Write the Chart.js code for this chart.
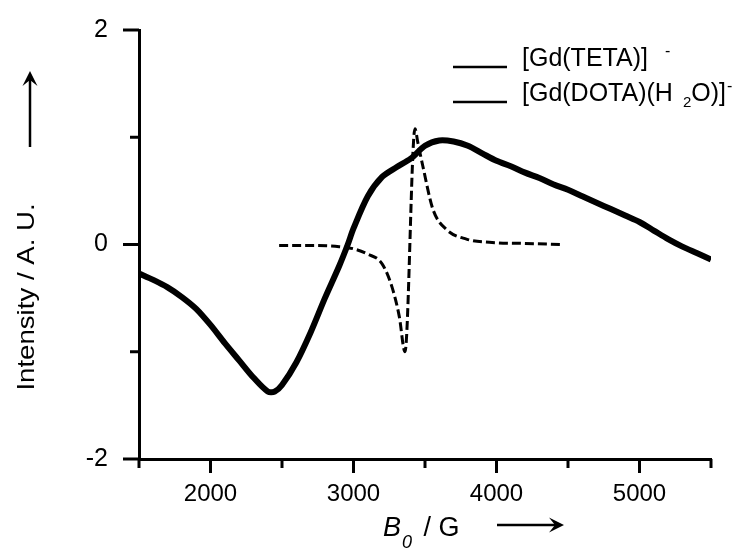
<!DOCTYPE html>
<html>
<head>
<meta charset="utf-8">
<script src="https://cdn.jsdelivr.net/npm/chart.js@4/dist/chart.umd.min.js"></script>
<style>
html,body{margin:0;padding:0;background:#fff;}
#wrap{width:747px;height:555px;position:relative;}
</style>
</head>
<body>
<div id="wrap"><canvas id="c"></canvas></div>
<script>
// ---- data ----
const tetaB0  = [1500,1600,1700,1800,1900,2000,2100,2200,2300,2400,2450,2500,2600,2700,2800,2900,2960,3000,3100,3200,3300,3400,3500,3600,3700,3800,3900,4000,4100,4200,4300,4400,4500,4600,4700,4800,4900,5000,5100,5200,5300,5400,5500];
const tetaInt = [-0.27,-0.33,-0.40,-0.49,-0.60,-0.75,-0.92,-1.08,-1.24,-1.37,-1.37,-1.31,-1.10,-0.82,-0.50,-0.20,0.00,0.15,0.45,0.63,0.72,0.80,0.92,0.97,0.96,0.92,0.85,0.78,0.73,0.67,0.62,0.56,0.51,0.45,0.39,0.33,0.27,0.21,0.13,0.05,-0.02,-0.08,-0.14];
const dotaB0  = [2480,2700,2900,3000,3100,3200,3270,3320,3360,3430,3450,3485,3555,3650,3790,3950,4200,4470];
const dotaInt = [-0.01,-0.01,-0.02,-0.04,-0.09,-0.18,-0.40,-0.67,-1.00,1.08,0.95,0.73,0.33,0.14,0.05,0.02,0.01,0.00];
const xTickLabels = [2000,3000,4000,5000];
const yTickLabels = [-2,0,2];
const seriesNames = ['[Gd(TETA)]-','[Gd(DOTA)(H2O)]-'];
// legend text runs (n = normal, gap = extra space, sub = subscript, sup = superscript)
const legendRuns = [
  [['n','[Gd(TETA)]'],['gap',16],['sup','-']],
  [['n','[Gd(DOTA)(H'],['gap',10],['sub','2'],['n','O)]'],['sup','-']]
];
const yTitle = 'Intensity / A. U.';
const xTitleRuns = [['i','B'],['isub','0'],['n',' / G']];

const FONT = '"Liberation Sans", Arial, Helvetica, sans-serif';
const pts = (xs, ys) => xs.map((v,i)=>({x:v,y:ys[i]}));

function arrow(ctx, x1, y1, x2, y2, head){
  const ang = Math.atan2(y2-y1, x2-x1);
  ctx.beginPath(); ctx.moveTo(x1,y1);
  ctx.lineTo(x2 - Math.cos(ang)*head*0.6, y2 - Math.sin(ang)*head*0.6); ctx.stroke();
  ctx.beginPath();
  ctx.moveTo(x2,y2);
  ctx.lineTo(x2 - head*Math.cos(ang) + head*0.5*Math.sin(ang), y2 - head*Math.sin(ang) - head*0.5*Math.cos(ang));
  ctx.lineTo(x2 - head*0.6*Math.cos(ang), y2 - head*0.6*Math.sin(ang));
  ctx.lineTo(x2 - head*Math.cos(ang) - head*0.5*Math.sin(ang), y2 - head*Math.sin(ang) + head*0.5*Math.cos(ang));
  ctx.closePath(); ctx.fill();
}

const decor = {
  id:'decor',
  afterDraw(chart){
    const {ctx, chartArea:a, scales:{x, y}} = chart;
    ctx.save();
    ctx.strokeStyle = '#000'; ctx.fillStyle = '#000'; ctx.lineWidth = 3; ctx.lineCap = 'butt';
    // x tick marks (major where labelled)
    x.ticks.forEach(t=>{
      const px = x.getPixelForValue(t.value);
      const len = xTickLabels.includes(t.value) ? 14 : 9;
      ctx.beginPath(); ctx.moveTo(px, a.bottom); ctx.lineTo(px, a.bottom+len); ctx.stroke();
    });
    // y tick marks
    y.ticks.forEach(t=>{
      const py = y.getPixelForValue(t.value);
      const len = yTickLabels.includes(t.value) ? 16 : 9;
      ctx.beginPath(); ctx.moveTo(a.left, py); ctx.lineTo(a.left-len, py); ctx.stroke();
    });

    // y title (rotated) and arrow
    ctx.save();
    ctx.translate(34, 297);
    ctx.rotate(-Math.PI/2);
    ctx.scale(1.15, 1);
    ctx.font = '24px ' + FONT;
    ctx.textAlign = 'center'; ctx.textBaseline = 'alphabetic';
    ctx.fillText(yTitle, 0, 0);
    ctx.restore();
    ctx.lineWidth = 2.5;
    arrow(ctx, 30, 147, 30, 71, 15);

    // x title
    ctx.save();
    ctx.textBaseline = 'alphabetic'; ctx.textAlign = 'left';
    let cx = 383; const base = 536;
    xTitleRuns.forEach(([k, s])=>{
      if (k === 'i'){ ctx.font = 'italic 27px ' + FONT; ctx.fillText(s, cx, base); cx += ctx.measureText(s).width; }
      else if (k === 'isub'){ ctx.font = 'italic 18px ' + FONT; ctx.fillText(s, cx+1, base+12); cx += ctx.measureText(s).width + 5; }
      else { ctx.font = '27px ' + FONT; ctx.fillText(s, cx, base); cx += ctx.measureText(s).width; }
    });
    ctx.restore();
    ctx.lineWidth = 2.5;
    arrow(ctx, 497, 525, 564, 525, 15);

    // legend
    ctx.lineWidth = 2.5;
    const rows = [67, 102];
    legendRuns.forEach((runs, i)=>{
      const ly = rows[i];
      ctx.beginPath(); ctx.moveTo(453, ly); ctx.lineTo(507, ly); ctx.stroke();
      let tx = 522; const tb = ly - 1;
      ctx.textBaseline = 'alphabetic'; ctx.textAlign = 'left';
      runs.forEach(([k, s])=>{
        if (k === 'n'){ ctx.font = '25px ' + FONT; ctx.fillText(s, tx, tb); tx += ctx.measureText(s).width; }
        else if (k === 'gap'){ tx += s; }
        else if (k === 'sub'){ ctx.font = '15px ' + FONT; ctx.fillText(s, tx, tb+6); tx += ctx.measureText(s).width; }
        else { ctx.font = '16px ' + FONT; ctx.fillText(s, tx+1, tb-10); tx += ctx.measureText(s).width; }
      });
    });
    ctx.restore();
  }
};

const zeroPad = s => { s.paddingTop = 0; s.paddingBottom = 0; s.paddingLeft = 0; s.paddingRight = 0; };

new Chart(document.getElementById('c'), {
  type: 'scatter',
  data: {
    datasets: [
      { label: seriesNames[0], data: pts(tetaB0, tetaInt), showLine: true, borderColor: '#000', borderWidth: 6, pointRadius: 0, tension: 0.3, fill: false },
      { label: seriesNames[1], data: pts(dotaB0, dotaInt), showLine: true, borderColor: '#000', borderWidth: 3, borderDash: [9,4], pointRadius: 0, tension: 0.3, cubicInterpolationMode: 'monotone', fill: false }
    ]
  },
  options: {
    responsive: true, maintainAspectRatio: false, animation: false, devicePixelRatio: 1,
    layout: { padding: { top: 30, right: 36, left: 0, bottom: 0 } },
    plugins: { legend: { display: false }, tooltip: { enabled: false } },
    scales: {
      x: {
        type: 'linear', min: 1500, max: 5500,
        grid: { display: false, drawTicks: false },
        border: { display: true, color: '#000', width: 3 },
        ticks: { stepSize: 500, color: '#000', font: { family: FONT, size: 24 }, padding: 21, maxRotation: 0,
          callback: v => xTickLabels.includes(v) ? String(v) : '' },
        afterFit: s => { s.height = 96; zeroPad(s); }
      },
      y: {
        min: -2, max: 2,
        grid: { display: false, drawTicks: false },
        border: { display: true, color: '#000', width: 3 },
        ticks: { stepSize: 1, color: '#000', font: { family: FONT, size: 25 }, padding: 31,
          callback: v => yTickLabels.includes(v) ? String(v) : '' },
        afterFit: s => { s.width = 139; zeroPad(s); }
      }
    }
  },
  plugins: [decor]
});
</script>
</body>
</html>
